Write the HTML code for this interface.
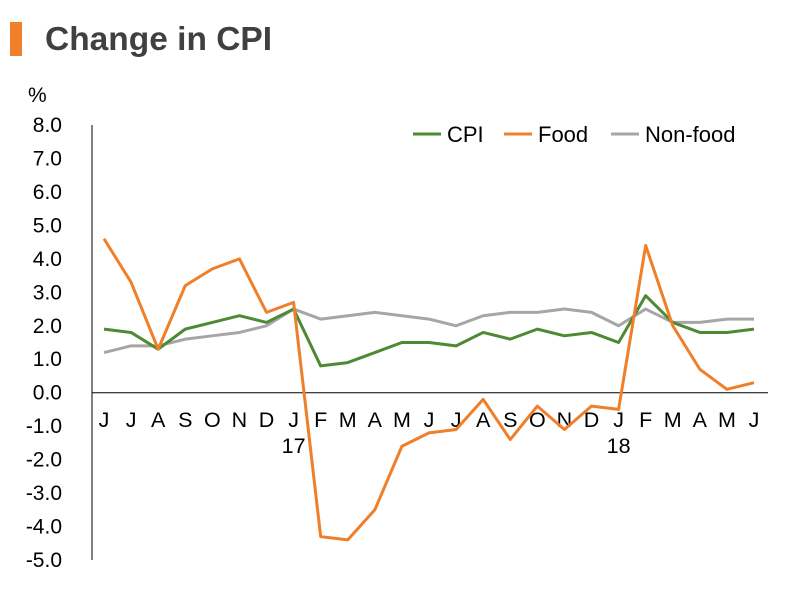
<!DOCTYPE html>
<html><head><meta charset="utf-8"><style>
body{margin:0;background:#fff;font-family:"Liberation Sans",sans-serif;}
svg text{font-family:"Liberation Sans",sans-serif;}
</style></head><body>
<svg id="chart" width="797" height="587">
<rect x="10" y="22" width="12" height="34" fill="#f07f2a"/>
<text x="45" y="50" font-size="33.5" font-weight="bold" fill="#404040">Change in CPI</text>
<text x="28" y="102" font-size="21" fill="#000">%</text>
<g id="yaxis"></g>
<g id="xaxis"></g>
<g id="series"></g>
<g id="legend"></g>
</svg>
<script>
const months=["J","J","A","S","O","N","D","J","F","M","A","M","J","J","A","S","O","N","D","J","F","M","A","M","J"];
const yearLabels=[{i:7,t:"17"},{i:19,t:"18"}];
const yTicks=[8,7,6,5,4,3,2,1,0,-1,-2,-3,-4,-5];
const cpi=[1.9,1.8,1.3,1.9,2.1,2.3,2.1,2.5,0.8,0.9,1.2,1.5,1.5,1.4,1.8,1.6,1.9,1.7,1.8,1.5,2.9,2.1,1.8,1.8,1.9];
const food=[4.6,3.3,1.3,3.2,3.7,4.0,2.4,2.7,-4.3,-4.4,-3.5,-1.6,-1.2,-1.1,-0.2,-1.4,-0.4,-1.1,-0.4,-0.5,4.4,2.0,0.7,0.1,0.3];
const nonfood=[1.2,1.4,1.4,1.6,1.7,1.8,2.0,2.5,2.2,2.3,2.4,2.3,2.2,2.0,2.3,2.4,2.4,2.5,2.4,2.0,2.5,2.1,2.1,2.2,2.2];
const seriesNames=["CPI","Food","Non-food"];
const NS="http://www.w3.org/2000/svg";
const yMin=-5,yMax=8,yTop=125,yBot=560,x0=104,x1=754;
function ys(v){return yBot-(v-yMin)/(yMax-yMin)*(yBot-yTop);}
function xs(i){return x0+i*(x1-x0)/(months.length-1);}
function mk(tag,attrs,parent){const e=document.createElementNS(NS,tag);for(const k in attrs)e.setAttribute(k,attrs[k]);parent.appendChild(e);return e;}
const ya=document.getElementById('yaxis'),xa=document.getElementById('xaxis'),sg=document.getElementById('series'),lg=document.getElementById('legend');
const axl=mk('line',{x1:92,y1:yTop,x2:92,y2:yBot,stroke:'#000','stroke-width':1},ya);


yTicks.forEach(v=>{const t=mk('text',{x:62,y:ys(v)+7,'text-anchor':'end','font-size':21},ya);t.textContent=v.toFixed(1);

});
const zl=mk('line',{x1:92,y1:ys(0),x2:768,y2:ys(0),stroke:'#000','stroke-width':1},xa);


months.forEach((m,i)=>{const t=mk('text',{x:xs(i),y:427,'text-anchor':'middle','font-size':21.5},xa);t.textContent=m;

});
yearLabels.forEach(y=>{const t=mk('text',{x:xs(y.i),y:453,'text-anchor':'middle','font-size':21.5},xa);t.textContent=y.t;

});
const colors=["#4e8a34","#f07f2a","#a6a6a6"];
[nonfood,cpi,food].forEach((d,k)=>{const idx=[2,0,1][k];const p=mk('polyline',{points:d.map((v,i)=>xs(i)+','+ys(v)).join(' '),fill:'none',stroke:colors[idx],'stroke-width':3,'stroke-linejoin':'round'},sg);

});
const lx=[413,504,611];
seriesNames.forEach((n,i)=>{const l=mk('line',{x1:lx[i],y1:134,x2:lx[i]+28,y2:134,stroke:colors[i],'stroke-width':3},lg);


const t=mk('text',{x:lx[i]+34,y:142,'font-size':22},lg);t.textContent=n;

});
</script>
</body></html>
